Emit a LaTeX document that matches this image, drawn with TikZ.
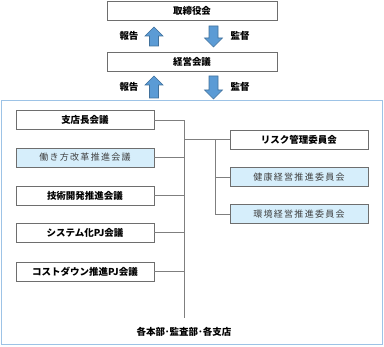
\documentclass[tikz,border=0pt]{standalone}
\usepackage{fontspec}
\setmainfont{Noto Sans CJK JP}
\newfontfamily\jplite[LetterSpace=14]{Noto Sans CJK JP}
\definecolor{boxline}{HTML}{6E6E6E}
\definecolor{conn}{HTML}{7F7F7F}
\definecolor{lightfill}{HTML}{D6EEFB}
\definecolor{arrowfill}{HTML}{5B9BD5}
\definecolor{arrowline}{HTML}{41719C}
\definecolor{frame}{HTML}{9DC3E6}
\definecolor{litetext}{HTML}{404040}
\begin{document}
\begin{tikzpicture}[x=1pt,y=-1pt,
  wbox/.style={draw=boxline,line width=0.8pt,fill=white,minimum height=19pt,inner sep=0pt,font=\fontsize{9.5}{11}\selectfont\bfseries},
  bbox/.style={draw=boxline,line width=0.8pt,fill=lightfill,minimum height=19pt,inner sep=0pt,font=\fontsize{9}{10}\jplite,text=litetext},
  lbox/.style={minimum width=138pt},
  rbox/.style={minimum width=138pt},
  tbox/.style={minimum width=170pt},
  lab/.style={font=\fontsize{9.5}{11}\selectfont\bfseries,inner sep=0pt},
  conline/.style={draw=conn,line width=0.8pt},
  barrow/.style={fill=arrowfill,draw=arrowline,line width=0.6pt}]
\useasboundingbox (0,0) rectangle (384,347);
% frame
\draw[frame,line width=1pt] (2,101) rectangle (382,345);
% top boxes
\node[wbox,tbox] (board) at (192,11) {取締役会};
\node[wbox,tbox] (mgmt) at (192,61.5) {経営会議};
% block arrows (up)
\foreach \t/\b in {27/46,76/98}{
  \draw[barrow] (154,\t) -- (163,\t+9) -- (158.5,\t+9) -- (158.5,\b) -- (149.5,\b) -- (149.5,\t+9) -- (145,\t+9) -- cycle;
}
% block arrows (down)
\foreach \t/\b in {26/47,76/99}{
  \draw[barrow] (213.5,\b) -- (222.5,\b-9) -- (218,\b-9) -- (218,\t) -- (209,\t) -- (209,\b-9) -- (204.5,\b-9) -- cycle;
}
\node[lab] (rep1) at (129,36) {報告};
\node[lab] (sup1) at (240,36) {監督};
\node[lab] (rep2) at (129,87) {報告};
\node[lab] (sup2) at (240,87) {監督};
% left boxes
\node[wbox,lbox] (shiten) at (85,120) {支店長会議};
\node[bbox,lbox] (hataraki) at (85,157.5) {働き方改革推進会議};
\node[wbox,lbox] (gijutsu) at (85,195.5) {技術開発推進会議};
\node[wbox,lbox] (system) at (85,232.5) {システム化PJ会議};
\node[wbox,lbox] (cost) at (85,271.5) {コストダウン推進PJ会議};
% right boxes
\node[wbox,rbox] (risk) at (299,139.5) {リスク管理委員会};
\node[bbox,rbox] (kenko) at (299,177) {健康経営推進委員会};
\node[bbox,rbox] (kankyo) at (299,214) {環境経営推進委員会};
% bottom label
\node[lab] (bottom) at (184,332) {各本部･監査部･各支店};
% connectors
\coordinate (vbot) at (184,318);
\coordinate (v2) at (215,139.5);
\draw[conline] (shiten.east) -- (shiten.east -| vbot) -- (vbot);
\foreach \n in {hataraki,gijutsu,system,cost}{
  \draw[conline] (\n.east) -- (\n.east -| vbot);
}
\draw[conline] (risk.west -| vbot) -- (risk.west);
\draw[conline] (v2) -- (v2 |- kankyo.west) -- (kankyo.west);
\draw[conline] (v2 |- kenko.west) -- (kenko.west);
\end{tikzpicture}
\end{document}
